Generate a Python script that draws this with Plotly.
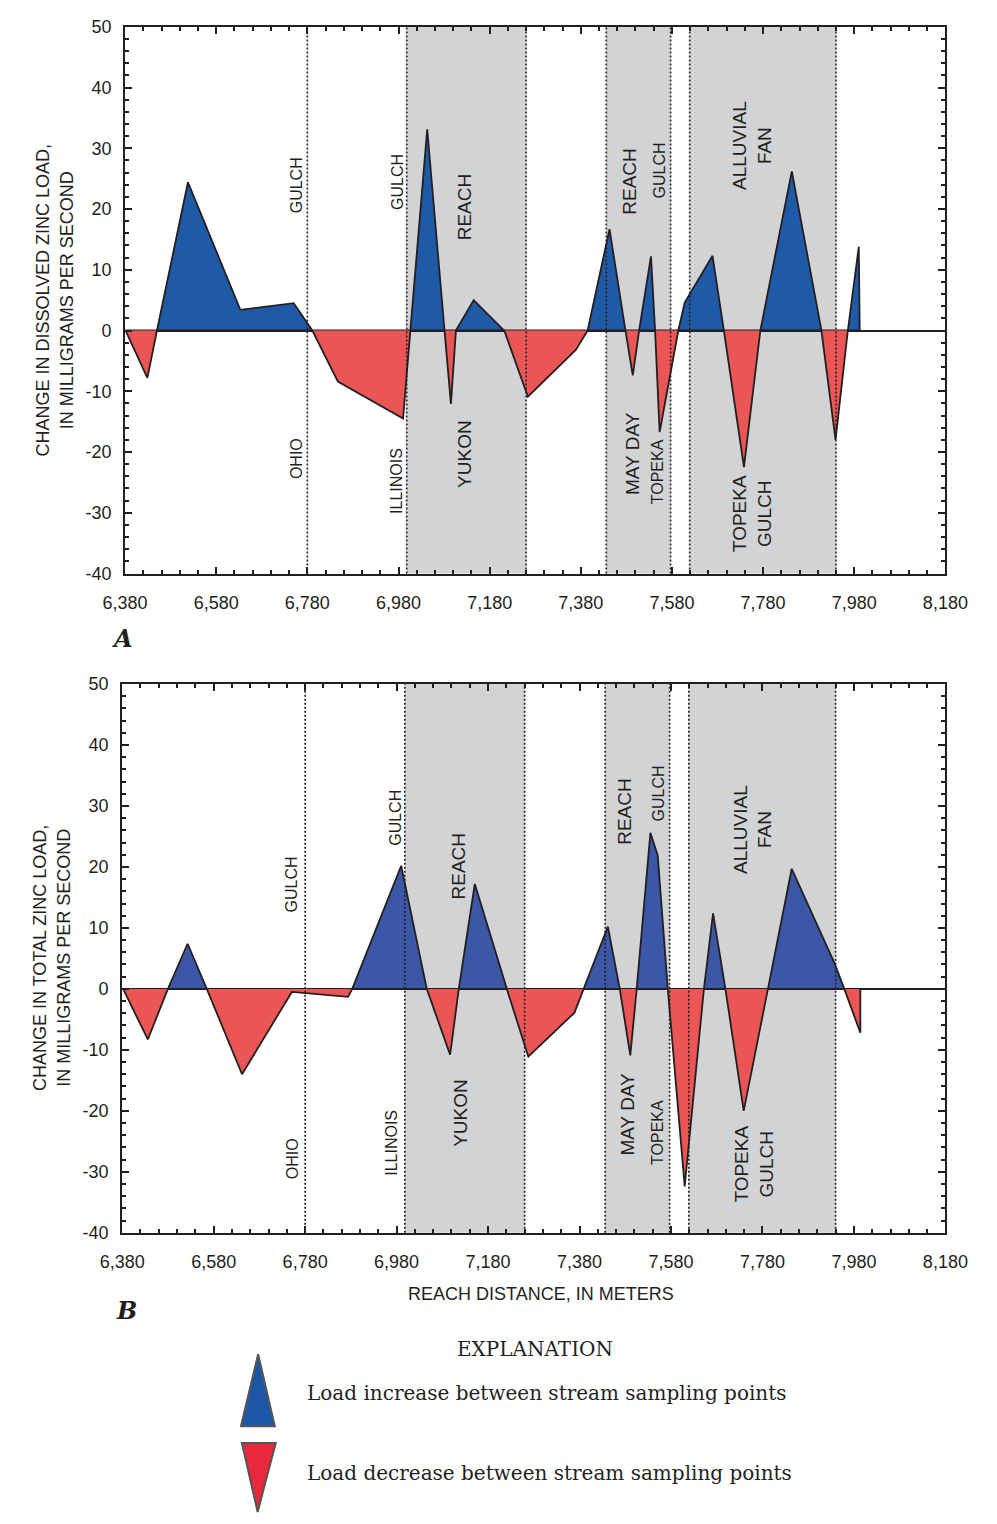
import plotly.graph_objects as go

W, H = 997, 1524

# ---------------- data ----------------
# Panel A: change in dissolved zinc load (mg/s) vs reach distance (m)
a_dist = [6381, 6429, 6450, 6518, 6633, 6750, 6791, 6847, 6990, 7006, 7043, 7081,
          7095, 7106, 7145, 7212, 7264, 7369, 7395, 7443, 7478, 7494, 7508, 7534,
          7543, 7553, 7594, 7608, 7669, 7694, 7738, 7774, 7843, 7908, 7939, 7966,
          7990, 7992]
a_change = [0, -7.8, 0, 24.4, 3.4, 4.5, 0, -8.4, -14.5, 0, 33.1, 0,
            -12.1, 0, 5.0, 0, -10.9, -3.2, 0, 16.7, 0, -7.4, 0, 12.2,
            0, -16.7, 0, 4.6, 12.3, 0, -22.5, 0, 26.2, 0, -18.0, 0,
            13.8, 0]

# Panel B: change in total zinc load (mg/s) vs reach distance (m)
b_dist = [6382, 6436, 6480, 6523, 6565, 6642, 6751, 6874, 6883, 6990, 7046, 7097,
          7116, 7151, 7221, 7268, 7369, 7389, 7442, 7468, 7491, 7505, 7535, 7551,
          7573, 7610, 7652, 7672, 7699, 7739, 7792, 7844, 7937, 7959, 7994, 7994]
b_change = [0, -8.3, 0, 7.4, 0, -14.0, -0.5, -1.3, 0, 20.2, 0, -10.8,
            0, 17.2, 0, -11.1, -3.9, 0, 10.2, 0, -10.9, 0, 25.6, 21.9,
            0, -32.4, 0, 12.4, 0, -20.0, 0, 19.7, 4.3, 0, -7.2, 0]

# tributary / reach boundaries (dotted lines) and shaded reaches
boundary_dist = [6780, 6998, 7260, 7436, 7577, 7619, 7940]
shade_start = [6998, 7436, 7619]
shade_end = [7260, 7577, 7940]

x_tickvals = [6380, 6580, 6780, 6980, 7180, 7380, 7580, 7780, 7980, 8180]
x_ticktext = ["6,380", "6,580", "6,780", "6,980", "7,180", "7,380", "7,580", "7,780", "7,980", "8,180"]
y_tickvals = [-40, -30, -20, -10, 0, 10, 20, 30, 40, 50]
y_ticktext = ["-40", "-30", "-20", "-10", "0", "10", "20", "30", "40", "50"]

# place-name labels
a_lab_text = ["GULCH", "OHIO", "GULCH", "ILLINOIS", "REACH", "YUKON", "REACH", "GULCH",
              "ALLUVIAL<br>FAN", "MAY DAY", "TOPEKA", "TOPEKA<br>GULCH"]
a_lab_x = [6755, 6756, 6978, 6974, 7124, 7126, 7488, 7553, 7756, 7495, 7549, 7756]
a_lab_y = [23.9, -21.1, 24.4, -24.8, 20.3, -20.3, 24.5, 26.3, 30.4, -20.3, -23.2, -30.2]
b_lab_text = a_lab_text
b_lab_x = [6751, 6754, 6977, 6967, 7116, 7119, 7478, 7553, 7759, 7484, 7549, 7761]
b_lab_y = [17.1, -27.9, 28.1, -25.3, 20.2, -20.3, 29.1, 32.0, 26.2, -20.6, -23.5, -28.7]
lab_size = [16, 16, 16, 16, 19, 19, 19, 16, 19, 19, 16, 19]

# ---------------- styling ----------------
INK = "#231f20"
BLUE_A = "#1f5aa6"
BLUE_B = "#3b57a5"
RED = "#ea5656"
GRAY = "#d1d3d4"
SANS = "Liberation Sans, Arial, sans-serif"
SERIF = "DejaVu Serif, serif"


def px(x):
    return x / W


def py(y):
    return 1 - y / H


fig = go.Figure()


def add_panel(dist, change, xa, ya, blue):
    pos = [max(v, 0) for v in change]
    neg = [min(v, 0) for v in change]
    fig.add_trace(go.Scatter(x=dist, y=pos, xaxis=xa, yaxis=ya, mode="lines",
                             fill="tozeroy", fillcolor=blue,
                             line=dict(color=INK, width=1.8), hoverinfo="skip",
                             showlegend=False))
    fig.add_trace(go.Scatter(x=dist, y=neg, xaxis=xa, yaxis=ya, mode="lines",
                             fill="tozeroy", fillcolor=RED,
                             line=dict(color=INK, width=1.8), hoverinfo="skip",
                             showlegend=False))


add_panel(a_dist, a_change, "x", "y", BLUE_A)
add_panel(b_dist, b_change, "x2", "y2", BLUE_B)

shapes = []
for xr, yr in (("x", "y"), ("x2", "y2")):
    for s, e in zip(shade_start, shade_end):
        shapes.append(dict(type="rect", xref=xr, yref=yr + " domain", x0=s, x1=e, y0=0, y1=1,
                           fillcolor=GRAY, line=dict(width=0), layer="below"))
    for b in boundary_dist:
        shapes.append(dict(type="line", xref=xr, yref=yr + " domain", x0=b, x1=b, y0=0, y1=1,
                           line=dict(color=INK, width=1.6, dash="2px,2px"), layer="above"))

# explanation (legend) triangles
shapes.append(dict(type="path", xref="paper", yref="paper",
                   path=f"M {px(246.5)},{py(1362)} L {px(264)},{py(1435)} L {px(228.5)},{py(1435)} Z",
                   fillcolor="#1b57a5", line=dict(color="#555555", width=2)))
shapes.append(dict(type="path", xref="paper", yref="paper",
                   path=f"M {px(229.5)},{py(1452)} L {px(265)},{py(1452)} L {px(246)},{py(1522)} Z",
                   fillcolor="#e8283b", line=dict(color="#555555", width=2)))

annotations = []
for texts, xs, ys, xr, yr in ((a_lab_text, a_lab_x, a_lab_y, "x", "y"),
                              (b_lab_text, b_lab_x, b_lab_y, "x2", "y2")):
    for t, x, y, s in zip(texts, xs, ys, lab_size):
        annotations.append(dict(text=t, x=x, y=y, xref=xr, yref=yr, showarrow=False,
                                textangle=-90, xanchor="center", yanchor="middle",
                                align="center", font=dict(family=SANS, size=s, color=INK)))

annotations += [
    dict(text="CHANGE IN DISSOLVED ZINC LOAD,<br>IN MILLIGRAMS PER SECOND", x=px(33), y=py(294),
         xref="paper", yref="paper", showarrow=False, textangle=-90, align="center",
         xanchor="center", yanchor="middle", font=dict(family=SANS, size=18, color=INK)),
    dict(text="CHANGE IN TOTAL ZINC LOAD,<br>IN MILLIGRAMS PER SECOND", x=px(30), y=py(961),
         xref="paper", yref="paper", showarrow=False, textangle=-90, align="center",
         xanchor="center", yanchor="middle", font=dict(family=SANS, size=18, color=INK)),
    dict(text="REACH DISTANCE, IN METERS", x=px(543), y=py(1301), xref="paper", yref="paper",
         showarrow=False, xanchor="center", yanchor="middle",
         font=dict(family=SANS, size=18, color=INK)),
    dict(text="<b><i>A</i></b>", x=px(104), y=py(637), xref="paper", yref="paper",
         showarrow=False, xanchor="center", yanchor="middle",
         font=dict(family=SERIF, size=24, color=INK)),
    dict(text="<b><i>B</i></b>", x=px(109), y=py(1318), xref="paper", yref="paper",
         showarrow=False, xanchor="center", yanchor="middle",
         font=dict(family=SERIF, size=24, color=INK)),
    dict(text="EXPLANATION", x=px(537), y=py(1357), xref="paper", yref="paper",
         showarrow=False, xanchor="center", yanchor="middle",
         font=dict(family=SERIF, size=20, color=INK)),
    dict(text="Load increase between stream sampling points", x=px(296), y=py(1401),
         xref="paper", yref="paper", showarrow=False, xanchor="left", yanchor="middle",
         font=dict(family=SERIF, size=20, color=INK)),
    dict(text="Load decrease between stream sampling points", x=px(296), y=py(1482),
         xref="paper", yref="paper", showarrow=False, xanchor="left", yanchor="middle",
         font=dict(family=SERIF, size=20, color=INK)),
]

xaxis_common = dict(range=[6380, 8180], tickvals=x_tickvals, ticktext=x_ticktext,
                    ticks="inside", ticklen=7, tickwidth=2, tickcolor=INK,
                    showline=True, linecolor=INK, linewidth=2, mirror="ticks",
                    showgrid=False, zeroline=False,
                    minor=dict(dtick=40, tick0=6380, ticks="inside", ticklen=4, tickwidth=1.5,
                               tickcolor=INK, showgrid=False),
                    tickfont=dict(family=SANS, size=18, color=INK), ticklabelstandoff=12)
yaxis_common = dict(range=[-40, 50], tickvals=y_tickvals, ticktext=y_ticktext,
                    ticks="inside", ticklen=7, tickwidth=2, tickcolor=INK,
                    showline=True, linecolor=INK, linewidth=2, mirror="ticks",
                    showgrid=False, zeroline=True, zerolinecolor=INK, zerolinewidth=1.6,
                    minor=dict(dtick=2, tick0=0, ticks="inside", ticklen=4, tickwidth=1.5,
                               tickcolor=INK, showgrid=False),
                    tickfont=dict(family=SANS, size=18, color=INK), ticklabelstandoff=8)

fig.update_layout(
    width=W, height=H, margin=dict(l=0, r=0, t=0, b=0),
    paper_bgcolor="white", plot_bgcolor="white", showlegend=False,
    xaxis=dict(domain=[px(107), px(967)], anchor="y", **xaxis_common),
    yaxis=dict(domain=[py(571), py(17)], anchor="x", **yaxis_common),
    xaxis2=dict(domain=[px(104), px(967)], anchor="y2", **xaxis_common),
    yaxis2=dict(domain=[py(1239), py(683)], anchor="x2", **yaxis_common),
    shapes=shapes, annotations=annotations,
)

fig.write_html("out.html", config={"displayModeBar": False},
               post_script="document.body.style.margin='0';document.body.style.overflow='hidden';")
